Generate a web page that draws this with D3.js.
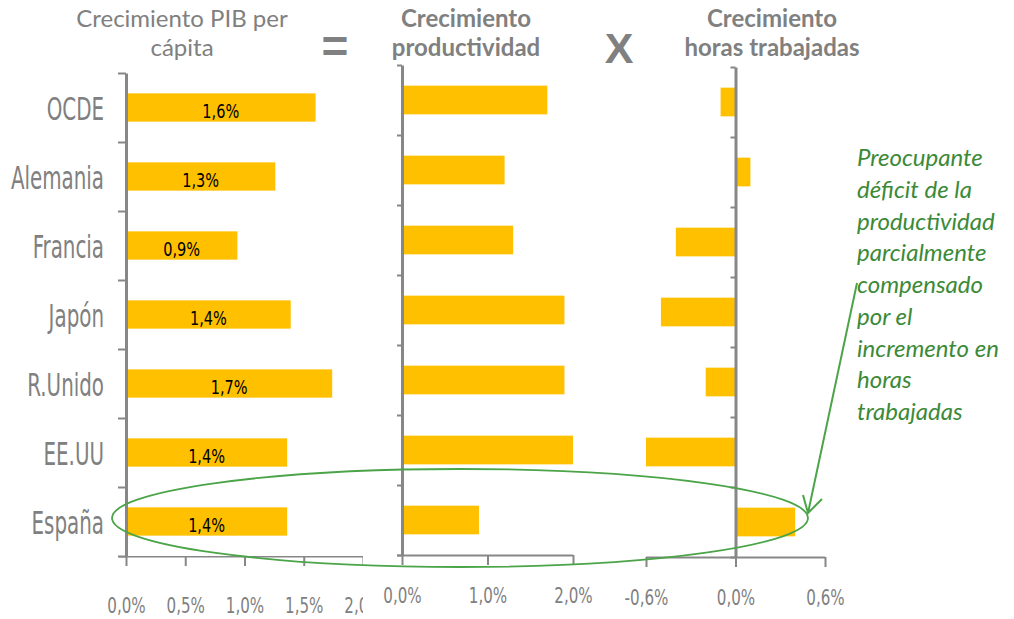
<!DOCTYPE html>
<html>
<head>
<meta charset="utf-8">
<script src="https://cdn.jsdelivr.net/npm/d3@7"></script>
<style>
  body { margin: 0; background: #fff; }
  svg { display: block; }
</style>
</head>
<body>
<svg id="chart"></svg>
<script>
const width = 1014;
const height = 619;

// datos
const paises = ['OCDE', 'Alemania', 'Francia', 'Japón', 'R.Unido', 'EE.UU', 'España'];
const pibPerCapita = [1.6, 1.26, 0.94, 1.39, 1.74, 1.36, 1.36];
const productividad = [1.7, 1.2, 1.3, 1.9, 1.9, 2.0, 0.9];
const horasTrabajadas = [-0.1, 0.1, -0.4, -0.5, -0.2, -0.6, 0.4];

const ticksPib = [0, 0.5, 1.0, 1.5, 2.0];
const ticksProd = [0, 1.0, 2.0];
const ticksHoras = [-0.6, 0, 0.6];

const nota = ['Preocupante', 'déficit de la', 'productividad', 'parcialmente',
  'compensado', 'por el', 'incremento en', 'horas', 'trabajadas'];

const gris = '#808080';
const ejeColor = '#878787';
const barColor = '#FFC000';
const verde = '#4BA448';
const verdeTexto = '#3C8A37';
const narrow = "'Liberation Sans Narrow', 'DejaVu Sans Condensed', sans-serif";
const titleFont = "Lato, 'Open Sans', sans-serif";

const fmt = v => d3.format('.1f')(v).replace('.', ',').replace('−', '-') + '%';

const svg = d3.select('#chart')
  .attr('width', width)
  .attr('height', height);

svg.append('defs').append('clipPath')
  .attr('id', 'clip1')
  .append('rect')
  .attr('x', 0).attr('y', 0).attr('width', 363).attr('height', height);

function panel(cfg) {
  const x = d3.scaleLinear().domain(cfg.domain).range(cfg.xRange);
  const band = d3.scaleBand().domain(paises).range(cfg.yRange).paddingInner(0.59).paddingOuter(0.295);
  const idx = d3.scaleLinear().domain([0, paises.length]).range(cfg.yRange);
  const g = svg.append('g');

  g.selectAll('rect.bar')
    .data(cfg.values)
    .join('rect')
    .attr('class', 'bar')
    .attr('x', d => x(Math.min(0, d)))
    .attr('width', d => Math.abs(x(d) - x(0)))
    .attr('y', (d, i) => band(paises[i]))
    .attr('height', band.bandwidth())
    .attr('fill', barColor);

  // eje x
  const xAxis = g.append('g')
    .attr('transform', `translate(0,${cfg.yRange[1]})`)
    .call(d3.axisBottom(x).tickValues(cfg.ticks).tickSize(10).tickSizeOuter(0).tickFormat(fmt));
  xAxis.select('.domain').attr('stroke', ejeColor).attr('stroke-width', 2)
    .attr('d', `M${cfg.axisLeft},0.5H${cfg.xRange[1]}`);
  xAxis.selectAll('.tick line').attr('stroke', ejeColor).attr('stroke-width', 2);
  xAxis.selectAll('.tick text')
    .attr('y', cfg.labelY)
    .attr('dy', 0)
    .attr('fill', gris)
    .style('font-family', narrow)
    .style('font-size', '21px')
    .attr('transform', 'scale(0.8,1)');
  if (cfg.clip) xAxis.attr('clip-path', 'url(#clip1)');

  // eje y (marcas entre categorías)
  const yAxis = g.append('g')
    .attr('transform', `translate(${x(0)},0)`)
    .call(d3.axisLeft(idx).tickValues(d3.range(paises.length + 1)).tickSize(cfg.tickY).tickSizeOuter(0).tickFormat(''));
  yAxis.select('.domain').attr('stroke', ejeColor).attr('stroke-width', 3);
  yAxis.selectAll('.tick line').attr('stroke', ejeColor).attr('stroke-width', 2);

  return { g, x, band };
}

// panel 1
const p1 = panel({
  domain: [0, 2.0], xRange: [126, 363], yRange: [73, 556],
  values: pibPerCapita, ticks: ticksPib, axisLeft: 119, tickY: 8, labelY: 57, clip: true
});

p1.g.selectAll('text.valor')
  .data(pibPerCapita)
  .join('text')
  .attr('class', 'valor')
  .attr('transform', (d, i) => `translate(${(p1.x(0) + p1.x(d)) / 2},${p1.band(paises[i]) + p1.band.bandwidth() / 2 + 10}) scale(0.85,1)`)
  .attr('text-anchor', 'middle')
  .attr('fill', '#000')
  .style('font-family', narrow)
  .style('font-size', '19px')
  .text(d => fmt(d));

svg.append('g').selectAll('text')
  .data(paises)
  .join('text')
  .attr('transform', d => `translate(104,${p1.band(d) + p1.band.bandwidth() / 2 + 12}) scale(0.69,1)`)
  .attr('text-anchor', 'end')
  .attr('fill', gris)
  .style('font-family', narrow)
  .style('font-size', '32px')
  .text(d => d);

// panel 2
panel({
  domain: [0, 2.0], xRange: [402, 573], yRange: [65, 555],
  values: productividad, ticks: ticksProd, axisLeft: 397, tickY: 5, labelY: 48
});

// panel 3
panel({
  domain: [-0.6, 0.6], xRange: [646, 825], yRange: [67, 557],
  values: horasTrabajadas, ticks: ticksHoras, axisLeft: 646, tickY: 5, labelY: 48
});

// títulos
function titulo(lines, cx, bold) {
  svg.append('g').selectAll('text')
    .data(lines)
    .join('text')
    .attr('x', cx)
    .attr('y', (d, i) => 26.5 + i * 29)
    .attr('text-anchor', 'middle')
    .attr('fill', gris)
    .style('font-family', titleFont)
    .style('font-size', '24px')
    .style('font-weight', bold ? 'bold' : 'normal')
    .text(d => d);
}
titulo(['Crecimiento PIB per', 'cápita'], 182, false);
titulo(['Crecimiento', 'productividad'], 466, true);
titulo(['Crecimiento', 'horas trabajadas'], 772, true);

svg.append('text')
  .attr('x', 335).attr('y', 62)
  .attr('text-anchor', 'middle')
  .attr('fill', gris)
  .style('font-family', "'Liberation Sans', sans-serif")
  .style('font-weight', 'bold')
  .style('font-size', '46px')
  .text('=');

svg.append('text')
  .attr('x', 619).attr('y', 63)
  .attr('text-anchor', 'middle')
  .attr('fill', gris)
  .style('font-family', "'Liberation Sans', sans-serif")
  .style('font-weight', 'bold')
  .style('font-size', '43px')
  .text('X');

// anotación
svg.append('ellipse')
  .attr('cx', 460).attr('cy', 518)
  .attr('rx', 348).attr('ry', 49)
  .attr('fill', 'none')
  .attr('stroke', verde)
  .attr('stroke-width', 1.8);

svg.append('path')
  .attr('d', 'M857,283L808,513M803,495L808,513L822,499')
  .attr('fill', 'none')
  .attr('stroke', verde)
  .attr('stroke-width', 2);

svg.append('text')
  .attr('fill', verdeTexto)
  .style('font-family', titleFont)
  .style('font-style', 'italic')
  .style('font-size', '24px')
  .selectAll('tspan')
  .data(nota)
  .join('tspan')
  .attr('x', 857)
  .attr('y', (d, i) => 166 + i * 31.75)
  .text(d => d);
</script>
</body>
</html>
